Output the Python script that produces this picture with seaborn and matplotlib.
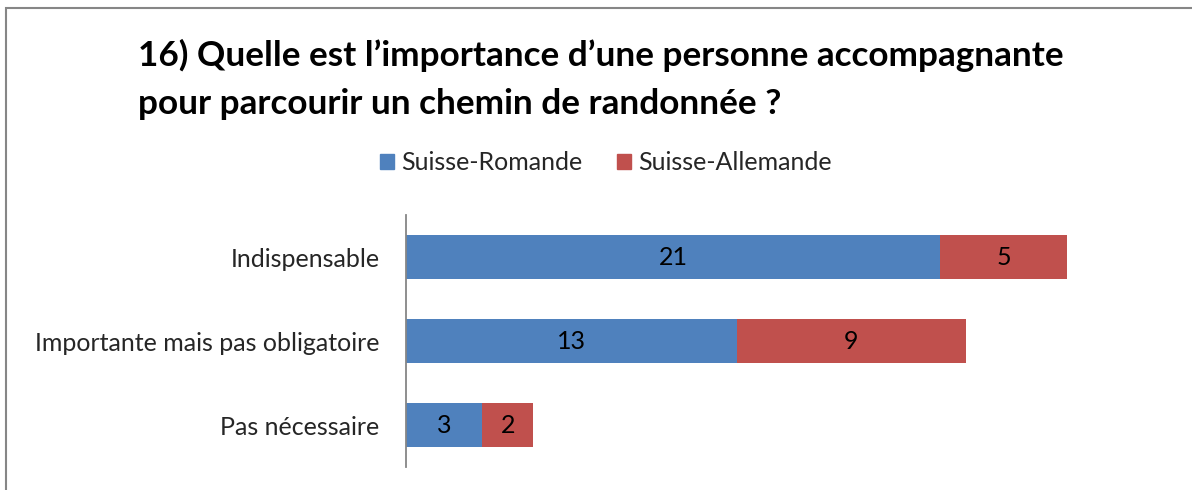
import matplotlib
matplotlib.use("Agg")
import matplotlib.pyplot as plt
import seaborn as sns
import pandas as pd
from matplotlib.patches import Rectangle, Patch

categories = ["Indispensable", "Importante mais pas obligatoire", "Pas nécessaire"]
romande = [21, 13, 3]
allemande = [5, 9, 2]
series_names = ["Suisse-Romande", "Suisse-Allemande"]
title = "16) Quelle est l\u2019importance d\u2019une personne accompagnante\npour parcourir un chemin de randonnée ?"

BLUE = "#4F81BD"
RED = "#C0504D"
GRAY = "#868686"

sns.set_theme(style="white")
plt.rcParams["font.family"] = ["Lato", "DejaVu Sans"]

df = pd.DataFrame({"cat": categories, "rom": romande, "all": allemande})
df["total"] = df["rom"] + df["all"]

fig = plt.figure(figsize=(11.92, 4.90), dpi=100)
ax = fig.add_axes([406/1192, 1 - 467/490, (1169 - 406)/1192, (467 - 215)/490])

sns.barplot(data=df, y="cat", x="total", color=RED, saturation=1, width=0.524, ax=ax, orient="h",
            linewidth=0)
sns.barplot(data=df, y="cat", x="rom", color=BLUE, saturation=1, width=0.524, ax=ax, orient="h",
            linewidth=0)

red_bars = ax.containers[0]
blue_bars = ax.containers[1]
ax.bar_label(blue_bars, labels=[str(v) for v in romande], label_type="center", fontsize=18, color="black")
for rp, bp, v in zip(red_bars.patches, blue_bars.patches, allemande):
    xc = (bp.get_width() + rp.get_width()) / 2
    yc = rp.get_y() + rp.get_height() / 2
    ax.text(xc, yc, str(v), ha="center", va="center", fontsize=18, color="black")

ax.set_xlim(0, 30)
ax.set_ylim(2.5, -0.5)
ax.set_xlabel("")
ax.set_ylabel("")
ax.set_xticks([])
ax.tick_params(axis="y", length=0, pad=19, labelsize=18)
for s in ["top", "right", "bottom"]:
    ax.spines[s].set_visible(False)
ax.spines["left"].set_color(GRAY)
ax.spines["left"].set_linewidth(1.3)

fig.text(138/1192, 1 - 39/490, title, ha="left", va="top", fontsize=25.3, fontweight="bold",
         linespacing=1.62, color="black")

handles = [Patch(facecolor=BLUE, edgecolor=BLUE), Patch(facecolor=RED, edgecolor=RED)]
fig.legend(handles, series_names, loc="center", bbox_to_anchor=(606/1192, 1 - 163/490), ncol=2,
           frameon=False, fontsize=18, handlelength=0.55, handleheight=0.55, handletextpad=0.3,
           columnspacing=1.4)

fig.add_artist(Rectangle((6/1192, -0.1), 1.2, 1 - 8/490 + 0.1, transform=fig.transFigure,
                         fill=False, edgecolor=GRAY, linewidth=1.5, clip_on=False))

fig.savefig("out.png", dpi=100)
